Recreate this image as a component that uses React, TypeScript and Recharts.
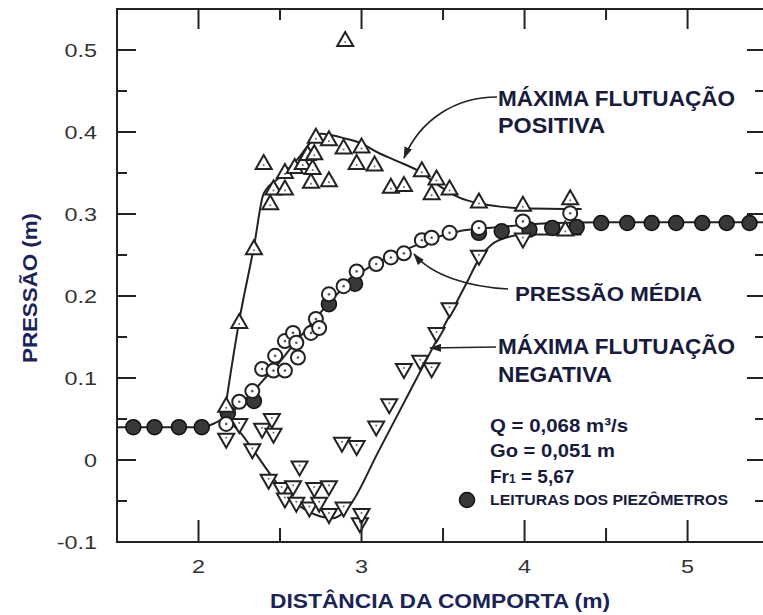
import { ComposedChart, Line, Scatter, XAxis, YAxis, ReferenceArea } from "recharts"

const CHART_W = 763
const CHART_H = 615
const Y_AXIS_W = 117
const X_AXIS_H = 73
const MARGIN = { top: 9, right: -2, bottom: 0, left: 0 }
const PLOT_RIGHT = CHART_W - MARGIN.right
const PLOT_TOP = MARGIN.top

const INK = "#222"
const TITLE = "#1b2457"
const NOTE = "#181b3c"

const X_DOMAIN = [1.5, 5.475]
const Y_DOMAIN = [-0.1, 0.55]
const X_TICKS = [2, 2.5, 3, 3.5, 4, 4.5, 5]
const Y_TICKS = [-0.1, -0.05, 0, 0.05, 0.1, 0.15, 0.2, 0.25, 0.3, 0.35, 0.4, 0.45, 0.5]

// máxima flutuação positiva (triângulos)
const positivePts = [
  { x: 2.17, y: 0.065 }, { x: 2.25, y: 0.167 }, { x: 2.34, y: 0.257 }, { x: 2.40, y: 0.361 },
  { x: 2.44, y: 0.312 }, { x: 2.46, y: 0.330 }, { x: 2.53, y: 0.330 }, { x: 2.53, y: 0.350 },
  { x: 2.59, y: 0.356 }, { x: 2.64, y: 0.361 }, { x: 2.67, y: 0.372 }, { x: 2.69, y: 0.338 },
  { x: 2.70, y: 0.355 }, { x: 2.71, y: 0.373 }, { x: 2.72, y: 0.393 }, { x: 2.80, y: 0.340 },
  { x: 2.80, y: 0.390 }, { x: 2.89, y: 0.380 }, { x: 2.90, y: 0.511 }, { x: 2.97, y: 0.361 },
  { x: 3.00, y: 0.381 }, { x: 3.08, y: 0.359 }, { x: 3.18, y: 0.332 }, { x: 3.26, y: 0.334 },
  { x: 3.37, y: 0.352 }, { x: 3.43, y: 0.324 }, { x: 3.46, y: 0.342 }, { x: 3.54, y: 0.330 },
  { x: 3.72, y: 0.314 }, { x: 3.99, y: 0.310 }, { x: 4.25, y: 0.280 }, { x: 4.28, y: 0.318 },
]
const positiveCurve = [
  { x: 2.15, y: 0.045 }, { x: 2.25, y: 0.17 }, { x: 2.34, y: 0.26 }, { x: 2.40, y: 0.325 },
  { x: 2.5, y: 0.345 }, { x: 2.6, y: 0.365 }, { x: 2.7, y: 0.39 }, { x: 2.75, y: 0.398 },
  { x: 2.82, y: 0.396 }, { x: 2.9, y: 0.392 }, { x: 3.0, y: 0.386 }, { x: 3.1, y: 0.375 },
  { x: 3.2, y: 0.366 }, { x: 3.37, y: 0.35 }, { x: 3.45, y: 0.338 }, { x: 3.6, y: 0.32 },
  { x: 3.72, y: 0.313 }, { x: 3.85, y: 0.309 }, { x: 4.0, y: 0.307 }, { x: 4.35, y: 0.306 },
]

// pressão média (círculos abertos)
const meanPts = [
  { x: 2.17, y: 0.044 }, { x: 2.25, y: 0.071 }, { x: 2.33, y: 0.084 }, { x: 2.39, y: 0.111 },
  { x: 2.46, y: 0.109 }, { x: 2.47, y: 0.127 }, { x: 2.53, y: 0.109 }, { x: 2.53, y: 0.145 },
  { x: 2.58, y: 0.155 }, { x: 2.60, y: 0.143 }, { x: 2.61, y: 0.125 }, { x: 2.69, y: 0.155 },
  { x: 2.72, y: 0.172 }, { x: 2.74, y: 0.161 }, { x: 2.80, y: 0.202 }, { x: 2.89, y: 0.212 },
  { x: 2.97, y: 0.230 }, { x: 3.09, y: 0.239 }, { x: 3.18, y: 0.247 }, { x: 3.26, y: 0.252 },
  { x: 3.37, y: 0.268 }, { x: 3.43, y: 0.271 }, { x: 3.54, y: 0.277 }, { x: 3.72, y: 0.283 },
  { x: 3.99, y: 0.291 }, { x: 4.28, y: 0.301 },
]
const meanCurve = [
  { x: 1.5, y: 0.04 }, { x: 2.02, y: 0.04 }, { x: 2.1, y: 0.045 }, { x: 2.2, y: 0.058 },
  { x: 2.3, y: 0.076 }, { x: 2.4, y: 0.098 }, { x: 2.5, y: 0.12 }, { x: 2.6, y: 0.145 },
  { x: 2.7, y: 0.168 }, { x: 2.8, y: 0.192 }, { x: 2.9, y: 0.212 }, { x: 3.0, y: 0.229 },
  { x: 3.1, y: 0.241 }, { x: 3.2, y: 0.251 }, { x: 3.3, y: 0.259 }, { x: 3.4, y: 0.267 },
  { x: 3.5, y: 0.274 }, { x: 3.6, y: 0.279 }, { x: 3.72, y: 0.282 }, { x: 3.85, y: 0.284 },
  { x: 4.0, y: 0.287 }, { x: 4.2, y: 0.289 }, { x: 4.5, y: 0.29 }, { x: 5.475, y: 0.29 },
]

// leituras dos piezômetros (círculos cheios)
const piezoPts = [
  { x: 1.60, y: 0.040 }, { x: 1.73, y: 0.040 }, { x: 1.88, y: 0.040 }, { x: 2.02, y: 0.040 },
  { x: 2.18, y: 0.057 }, { x: 2.34, y: 0.072 }, { x: 2.80, y: 0.190 }, { x: 2.96, y: 0.215 },
  { x: 3.72, y: 0.277 }, { x: 3.86, y: 0.279 }, { x: 4.03, y: 0.281 }, { x: 4.17, y: 0.283 },
  { x: 4.32, y: 0.284 }, { x: 4.47, y: 0.289 }, { x: 4.63, y: 0.289 }, { x: 4.78, y: 0.289 },
  { x: 4.93, y: 0.289 }, { x: 5.09, y: 0.289 }, { x: 5.24, y: 0.289 }, { x: 5.38, y: 0.289 },
]

// máxima flutuação negativa (triângulos invertidos)
const negativePts = [
  { x: 2.17, y: 0.026 }, { x: 2.25, y: 0.044 }, { x: 2.33, y: 0.013 }, { x: 2.39, y: 0.038 },
  { x: 2.45, y: 0.050 }, { x: 2.46, y: 0.032 }, { x: 2.43, y: -0.024 }, { x: 2.51, y: -0.034 },
  { x: 2.53, y: -0.047 }, { x: 2.58, y: -0.032 }, { x: 2.60, y: -0.052 }, { x: 2.62, y: -0.008 },
  { x: 2.68, y: -0.058 }, { x: 2.71, y: -0.034 }, { x: 2.74, y: -0.052 }, { x: 2.80, y: -0.032 },
  { x: 2.80, y: -0.066 }, { x: 2.88, y: 0.021 }, { x: 2.89, y: -0.058 }, { x: 2.97, y: 0.017 },
  { x: 2.99, y: -0.077 }, { x: 3.00, y: -0.066 }, { x: 3.09, y: 0.041 }, { x: 3.17, y: 0.068 },
  { x: 3.26, y: 0.111 }, { x: 3.36, y: 0.121 }, { x: 3.43, y: 0.112 }, { x: 3.46, y: 0.155 },
  { x: 3.54, y: 0.185 }, { x: 3.72, y: 0.249 }, { x: 3.99, y: 0.270 },
]
const negativeCurve = [
  { x: 2.17, y: 0.05 }, { x: 2.25, y: 0.035 }, { x: 2.35, y: 0.008 }, { x: 2.45, y: -0.02 },
  { x: 2.55, y: -0.045 }, { x: 2.65, y: -0.06 }, { x: 2.75, y: -0.069 }, { x: 2.82, y: -0.071 },
  { x: 2.89, y: -0.064 }, { x: 2.94, y: -0.052 }, { x: 3.1, y: 0.009 }, { x: 3.3, y: 0.085 },
  { x: 3.5, y: 0.161 }, { x: 3.65, y: 0.218 }, { x: 3.72, y: 0.245 }, { x: 3.8, y: 0.263 },
  { x: 3.9, y: 0.272 }, { x: 4.0, y: 0.275 }, { x: 4.35, y: 0.275 },
]

const isMajor = (v: number, step: number) => Math.abs(Math.round(v / step) - v / step) < 1e-6

function YTick({ x, y, payload }: any) {
  const v = payload.value
  const major = isMajor(v, 0.1)
  return (
    <g>
      <line x1={x} x2={x + (major ? 19 : 10)} y1={y} y2={y} stroke={INK} strokeWidth={2} />
      <line x1={PLOT_RIGHT} x2={PLOT_RIGHT - (major ? 18 : 10)} y1={y} y2={y} stroke={INK} strokeWidth={2} />
      {major && (
        <text
          transform={`translate(${x - 20},${y + 6.5}) scale(1.3,1)`}
          textAnchor="end"
          fontFamily="Liberation Sans, Arial, sans-serif"
          fontSize={18}
          fill="#333"
        >
          {v === 0 ? "0" : v.toFixed(1)}
        </text>
      )}
    </g>
  )
}

function XTick({ x, y, payload }: any) {
  const v = payload.value
  const major = isMajor(v, 1)
  return (
    <g>
      <line x1={x} x2={x} y1={y} y2={y - (major ? 22 : 14)} stroke={INK} strokeWidth={2} />
      <line x1={x} x2={x} y1={PLOT_TOP} y2={PLOT_TOP + (major ? 20 : 11)} stroke={INK} strokeWidth={2} />
      {major && (
        <text
          transform={`translate(${x},${y + 31}) scale(1.3,1)`}
          textAnchor="middle"
          fontFamily="Liberation Sans, Arial, sans-serif"
          fontSize={18}
          fill="#333"
        >
          {v}
        </text>
      )}
    </g>
  )
}

const UpTriangle = ({ cx, cy }: any) => (
  <g>
    <polygon points={`${cx},${cy - 9} ${cx - 8},${cy + 5} ${cx + 8},${cy + 5}`} fill="#fff" stroke={INK} strokeWidth={2} />
    <circle cx={cx} cy={cy + 1} r={1} fill="#666" />
  </g>
)

const DownTriangle = ({ cx, cy }: any) => (
  <g>
    <polygon points={`${cx},${cy + 9} ${cx - 8},${cy - 5} ${cx + 8},${cy - 5}`} fill="#fff" stroke={INK} strokeWidth={2} />
    <circle cx={cx} cy={cy - 1} r={1} fill="#666" />
  </g>
)

const OpenCircle = ({ cx, cy }: any) => (
  <g>
    <circle cx={cx} cy={cy} r={7} fill="#fff" stroke={INK} strokeWidth={2} />
    <circle cx={cx} cy={cy} r={1.3} fill="#555" />
  </g>
)

const FilledCircle = ({ cx, cy }: any) => (
  <circle cx={cx} cy={cy} r={7.5} fill="#383838" stroke="#111" strokeWidth={1.5} />
)

const boldNote = {
  fontFamily: "Liberation Sans, Arial, sans-serif",
  fontWeight: 700,
  fill: NOTE,
}

function Notes() {
  return (
    <svg
      width={CHART_W}
      height={CHART_H}
      style={{ position: "absolute", left: 0, top: 0, pointerEvents: "none" }}
    >
      <defs>
        <marker id="head" viewBox="0 0 12 8" refX="11" refY="4" markerWidth="12" markerHeight="8" markerUnits="userSpaceOnUse" orient="auto">
          <path d="M0,0 L12,4 L0,8 Z" fill={INK} />
        </marker>
      </defs>

      <path d="M497,97 C455,97 420,120 404,158" fill="none" stroke={INK} strokeWidth={1.6} markerEnd="url(#head)" />
      <path d="M508,289 C470,287 432,276 414,254" fill="none" stroke={INK} strokeWidth={1.6} markerEnd="url(#head)" />
      <path d="M496,347 L430,348" fill="none" stroke={INK} strokeWidth={1.6} markerEnd="url(#head)" />

      <text x={498} y={106} fontSize={22.5} textLength={237} lengthAdjust="spacingAndGlyphs" {...boldNote}>MÁXIMA FLUTUAÇÃO</text>
      <text x={498} y={133} fontSize={22.5} textLength={107} lengthAdjust="spacingAndGlyphs" {...boldNote}>POSITIVA</text>
      <text x={515} y={301} fontSize={21} textLength={187} lengthAdjust="spacingAndGlyphs" {...boldNote}>PRESSÃO MÉDIA</text>
      <text x={498} y={354} fontSize={22.5} textLength={237} lengthAdjust="spacingAndGlyphs" {...boldNote}>MÁXIMA FLUTUAÇÃO</text>
      <text x={498} y={382} fontSize={22.5} textLength={114} lengthAdjust="spacingAndGlyphs" {...boldNote}>NEGATIVA</text>

      <text x={490} y={432} fontSize={19} textLength={138} lengthAdjust="spacingAndGlyphs" {...boldNote}>Q = 0,068 m³/s</text>
      <text x={490} y={457} fontSize={19} textLength={125} lengthAdjust="spacingAndGlyphs" {...boldNote}>Go = 0,051 m</text>
      <text x={490} y={483} fontSize={19} {...boldNote}>
        Fr<tspan fontSize={12}>1</tspan> = 5,67
      </text>
      <circle cx={467} cy={500} r={7.5} fill="#383838" stroke="#111" strokeWidth={1.5} />
      <text x={490} y={505} fontSize={14.5} textLength={238} lengthAdjust="spacingAndGlyphs" {...boldNote}>LEITURAS DOS PIEZÔMETROS</text>

      <text
        transform="translate(37,288) rotate(-90)"
        textAnchor="middle"
        fontSize={21}
        textLength={150}
        lengthAdjust="spacingAndGlyphs"
        fontFamily="Liberation Sans, Arial, sans-serif"
        fontWeight={700}
        fill={TITLE}
      >
        PRESSÃO (m)
      </text>
      <text
        x={440}
        y={608}
        textAnchor="middle"
        fontSize={21}
        textLength={340}
        lengthAdjust="spacingAndGlyphs"
        fontFamily="Liberation Sans, Arial, sans-serif"
        fontWeight={700}
        fill={TITLE}
      >
        DISTÂNCIA DA COMPORTA (m)
      </text>
    </svg>
  )
}

export default function App() {
  return (
    <div style={{ position: "absolute", left: 0, top: 0, width: CHART_W, height: CHART_H, background: "#fff" }}>
      <ComposedChart width={CHART_W} height={CHART_H} margin={MARGIN}>
        <XAxis
          type="number"
          dataKey="x"
          domain={X_DOMAIN}
          allowDataOverflow
          ticks={X_TICKS}
          interval={0}
          height={X_AXIS_H}
          tickSize={0}
          tickMargin={0}
          tickLine={false}
          axisLine={{ stroke: INK, strokeWidth: 2 }}
          tick={(p: any) => <XTick {...p} />}
        />
        <YAxis
          type="number"
          dataKey="y"
          domain={Y_DOMAIN}
          allowDataOverflow
          ticks={Y_TICKS}
          interval={0}
          width={Y_AXIS_W}
          tickSize={0}
          tickMargin={0}
          tickLine={false}
          axisLine={{ stroke: INK, strokeWidth: 2 }}
          tick={(p: any) => <YTick {...p} />}
        />
        <ReferenceArea x1={X_DOMAIN[0]} x2={X_DOMAIN[1]} y1={Y_DOMAIN[0]} y2={Y_DOMAIN[1]} fill="none" stroke={INK} strokeWidth={2} fillOpacity={0} />

        <Line data={meanCurve} dataKey="y" type="monotone" stroke={INK} strokeWidth={2} dot={false} activeDot={false} isAnimationActive={false} />
        <Line data={positiveCurve} dataKey="y" type="monotone" stroke={INK} strokeWidth={2} dot={false} activeDot={false} isAnimationActive={false} />
        <Line data={negativeCurve} dataKey="y" type="monotone" stroke={INK} strokeWidth={2} dot={false} activeDot={false} isAnimationActive={false} />

        <Scatter data={piezoPts} dataKey="y" shape={FilledCircle} isAnimationActive={false} />
        <Scatter data={meanPts} dataKey="y" shape={OpenCircle} isAnimationActive={false} />
        <Scatter data={negativePts} dataKey="y" shape={DownTriangle} isAnimationActive={false} />
        <Scatter data={positivePts} dataKey="y" shape={UpTriangle} isAnimationActive={false} />
      </ComposedChart>
      <Notes />
    </div>
  )
}
